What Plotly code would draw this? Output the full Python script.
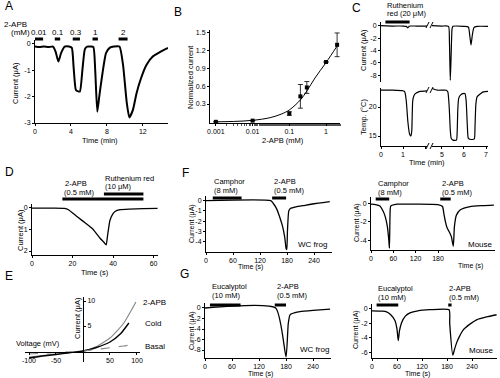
import plotly.graph_objects as go

W, H = 500, 378
FONT = "Liberation Sans, Arial, sans-serif"

# ---------------- DATA ----------------
# Panel A: current trace vs time (min)
A_time = [0, 0.5, 1.0, 1.5, 2.0, 2.3, 2.6, 2.9, 3.3, 3.8, 4.1, 4.3, 4.55, 4.8, 5.0, 5.3, 5.55,
          5.8, 6.2, 6.5, 6.7, 6.93, 7.15, 7.4, 7.9, 8.3, 8.8, 9.4, 9.8, 10.2, 10.5, 10.9, 11.3,
          11.8, 12.4, 13.1, 13.7, 14.3, 14.8]
A_current = [-0.1, -0.12, -0.1, -0.12, -0.1, -0.3, -0.67, -0.35, -0.1, -0.1, -0.15, -0.9, -1.75,
             -1.8, -1.8, -0.9, -0.2, -0.1, -0.1, -0.12, -1.0, -2.57, -2.0, -1.37, -0.35, -0.15,
             -0.1, -0.1, -0.8, -2.2, -2.79, -2.5, -1.87, -1.3, -0.8, -0.48, -0.35, -0.23, -0.15]
A_bar_start = [0, 2.2, 4.2, 6.4, 9.3]
A_bar_end = [0.9, 2.8, 5.0, 7.0, 10.3]
A_conc = ["0.01", "0.1", "0.3", "1", "2"]

# Panel B: dose response
B_conc = [0.001, 0.01, 0.1, 0.2, 0.3, 1, 2]
B_mean = [0.0, 0.02, 0.14, 0.43, 0.58, 1.01, 1.3]
B_err = [0.0, 0.0, 0.03, 0.2, 0.1, 0.0, 0.2]
B_fit_x = [0.001, 0.003, 0.01, 0.03, 0.06, 0.1, 0.2, 0.3, 0.5, 1, 2]
B_fit_y = [0.0, 0.006, 0.025, 0.07, 0.13, 0.2, 0.37, 0.52, 0.74, 1.0, 1.28]
B_xticks = [0.001, 0.01, 0.1, 1]
B_xlabels = ["0.001", "0.01", "0.1", "1"]
B_yticks = [0.3, 0.6, 0.9, 1.2, 1.5]

# Panel C: current and temperature (broken time axis)
C_t_left = [0, 0.5, 1.0, 1.15, 1.22, 1.28, 1.33, 1.6, 2.09]
C_i_left = [0, -0.05, -0.05, -0.1, -0.35, -0.1, -0.05, -0.05, -0.05]
C_t_right = [4.55, 5.0, 5.3, 5.34, 5.38, 5.42, 5.46, 5.5, 6.0, 6.2, 6.27, 6.32, 6.38, 6.45, 6.6, 7.09]
C_i_right = [0, -0.05, -0.1, -2.5, -8.8, -4.5, -0.5, -0.1, -0.1, -0.2, -1.8, -3.1, -1.5, -0.3, -0.1, -0.1]
C_tt_left = [0, 0.5, 1.0, 1.08, 1.15, 1.22, 1.3, 1.36, 1.4, 1.44, 1.5, 1.6, 1.77, 2.09]
C_temp_left = [22.9, 22.9, 22.8, 22.6, 21, 17.5, 15.3, 15.0, 16, 21, 22.0, 22.4, 22.7, 22.8]
C_tt_right = [4.55, 4.8, 5.2, 5.27, 5.33, 5.38, 5.42, 5.5, 5.66, 5.69, 5.72, 5.76, 5.85, 5.95,
              6.05, 6.1, 6.15, 6.2, 6.35, 6.47, 6.5, 6.54, 6.6, 6.75, 6.88, 7.09]
C_temp_right = [23.2, 22.9, 22.9, 22.6, 20, 16, 14.6, 14.3, 14.3, 15.5, 19.5, 21.5, 22.1, 22.3,
                22.3, 21, 17, 14.6, 14.4, 14.5, 16.5, 20.5, 21.8, 22.3, 22.6, 22.7]
C_rr_bar = [0.2, 1.3]

# Panel D
D_time = [0, 10, 16, 18, 22, 26, 30, 33.6, 35.5, 36.6, 37.3, 38.5, 40, 41, 43.5, 48, 55, 62]
D_current = [-0.05, -0.05, -0.06, -0.12, -0.42, -0.7, -1.0, -1.42, -1.6, -1.72, -1.3, -0.6, -0.3,
             -0.2, -0.12, -0.09, -0.07, -0.06]
D_apb_bar = [15, 55]
D_rr_bar = [35.5, 55]

# Panel E: I-V curves
E_voltage = [-100, -75, -50, -25, 0, 25, 50, 75, 98]
E_apb = [-1.2, -0.9, -0.6, -0.3, 0, 0.9, 2.6, 5.5, 9.8]
E_voltage_cold = [-100, -75, -50, -25, 0, 25, 50, 70, 85]
E_cold = [-1.4, -1.0, -0.7, -0.35, 0, 0.7, 1.8, 3.5, 5.6]
E_basal = [-0.6, -0.45, -0.3, -0.15, 0, 0.3, 0.65, 1.0, 1.4]

# Panel F
F_left_t = [0, 144, 150, 157, 163, 170, 175, 178, 179.5, 181, 184, 188, 200, 220, 240, 260, 275]
F_left_i = [0, 0, -0.3, -0.8, -1.5, -2.5, -3.6, -4.7, -4.8, -3.0, -1.0, -0.75, -0.6, -0.45,
            -0.3, -0.18, -0.1]
F_right_t = [0, 12, 24, 32, 38, 44, 48, 49.5, 51, 53, 70, 120, 180, 192, 196, 200, 204, 208, 212,
             216, 221, 224, 229, 240, 266, 300, 330]
F_right_i = [-0.1, -0.15, -0.3, -0.8, -1.4, -2.5, -4.0, -4.8, -1.5, -0.3, -0.1, -0.1, -0.15,
             -0.35, -1.2, -2.0, -2.6, -2.9, -3.2, -3.6, -4.6, -2.5, -1.3, -0.7, -0.35, -0.25, -0.2]
F_left_bars = [[15, 79], [147, 178]]
F_right_bars = [[12.6, 49], [186, 214]]

# Panel G
G_left_t = [0, 157, 180, 185, 189, 200, 211, 240, 278]
G_left_i = [0, 0, -9.3, -3.0, -1.3, -0.9, -0.7, -0.45, -0.2]
G_right_t = [0, 25, 35, 45, 55, 60, 63, 66, 71, 80, 91, 110, 139, 185, 186.5, 194, 198, 203, 210,
             219, 235, 251, 275, 299]
G_right_i = [-0.25, -0.3, -0.4, -0.8, -1.6, -2.8, -4.4, -3.0, -1.9, -1.0, -0.55, -0.25, -0.1,
             -0.1, -2, -6.4, -5.6, -4.7, -3.8, -2.9, -2.1, -1.5, -1.1, -0.8]
G_left_bars = [[11, 79], [155, 180]]
G_right_bars = [[11, 63], [183, 191]]

# ---------------- HELPERS ----------------
TICKFONT = dict(family=FONT, size=7, color="black")


def px(x):
    return x / W


def py(y):
    return 1 - y / H


def xax(dom, rng, tickvals=None, ticktext=None, show=True, **kw):
    d = dict(domain=[px(dom[0]), px(dom[1])], range=rng, showline=show, linecolor="black",
             linewidth=1, ticks="outside" if show else "", ticklen=2, tickwidth=1,
             tickcolor="black", showticklabels=show, tickfont=TICKFONT, showgrid=False,
             zeroline=False, fixedrange=True, automargin=False)
    if tickvals is not None:
        d["tickvals"] = tickvals
        d["ticktext"] = ticktext if ticktext is not None else [str(v) for v in tickvals]
    d.update(kw)
    return d


def yax(dom, rng, tickvals=None, ticktext=None, show=True, **kw):
    d = dict(domain=[py(dom[1]), py(dom[0])], range=rng, showline=show, linecolor="black",
             linewidth=1, ticks="outside" if show else "", ticklen=2, tickwidth=1,
             tickcolor="black", showticklabels=show, tickfont=TICKFONT, showgrid=False,
             zeroline=False, fixedrange=True, automargin=False)
    if tickvals is not None:
        d["tickvals"] = tickvals
        d["ticktext"] = ticktext if ticktext is not None else [str(v) for v in tickvals]
    d.update(kw)
    return d


annotations = []
shapes = []


def text(t, x, y, size=8, xanchor="center", angle=0):
    annotations.append(dict(text=t, x=px(x), y=py(y), xref="paper", yref="paper",
                            showarrow=False, xanchor=xanchor, yanchor="middle",
                            textangle=angle, font=dict(family=FONT, size=size, color="black")))


def bar(xref, x0, x1, y, width=3):
    shapes.append(dict(type="line", xref=xref, yref="paper", x0=x0, x1=x1, y0=py(y), y1=py(y),
                       line=dict(color="black", width=width)))


def pline(x0, y0, x1, y1, color="black", width=1):
    shapes.append(dict(type="line", xref="paper", yref="paper", x0=px(x0), y0=py(y0),
                       x1=px(x1), y1=py(y1), line=dict(color=color, width=width)))


fig = go.Figure()


def line(x, y, n, color="black", width=1.2, dash="solid"):
    sfx = "" if n == 1 else str(n)
    fig.add_trace(go.Scatter(x=x, y=y, mode="lines", xaxis="x" + sfx, yaxis="y" + sfx,
                             line=dict(color=color, width=width, dash=dash, shape="spline",
                                       smoothing=0.5),
                             showlegend=False, hoverinfo="skip"))


layout = {}

# ---- A ----
line(A_time, A_current, 1, width=2)
layout["xaxis"] = xax([35, 168], [0, 14.8], [0, 4, 8, 12], anchor="y")
layout["yaxis"] = yax([40, 123], [-3, 0.15], [0, -1, -2, -3], anchor="x")
for s, e, c in zip(A_bar_start, A_bar_end, A_conc):
    bar("x", s, e, 39)
    text(c, 35 + 9 * (s + e) / 2, 32, size=8)
text("2-APB", 2, 24, size=8, xanchor="left")
text("(mM)", 9, 32, size=8, xanchor="left")
text("Current (μA)", 16, 83, size=7.5, angle=-90)
text("Time (min)", 100, 140, size=7.5)
text("A", 3, 6, size=12, xanchor="left")

# ---- B ----
fig.add_trace(go.Scatter(x=B_fit_x, y=B_fit_y, mode="lines", xaxis="x2", yaxis="y2",
                         line=dict(color="black", width=1, shape="spline"), showlegend=False))
fig.add_trace(go.Scatter(x=B_conc, y=B_mean, mode="markers", xaxis="x2", yaxis="y2",
                         marker=dict(symbol="square", size=4, color="black"),
                         error_y=dict(type="data", array=B_err, color="black", thickness=0.8,
                                      width=2.5),
                         showlegend=False))
layout["xaxis2"] = xax([210, 340], [-3.16, 0.38], B_xticks, B_xlabels, anchor="y2", type="log",
                       minor=dict(ticks="outside", ticklen=1.5, tickcolor="#555555"))
layout["yaxis2"] = yax([30, 123], [-0.02, 1.55], B_yticks, ["0.3", "0.6", "0.9", "1.2", "1.5"],
                       anchor="x2")
text("Normalized current", 190, 77, size=7.5, angle=-90)
text("2-APB (mM)", 283, 140, size=7.5)
text("B", 172, 12, size=12, xanchor="left")

# ---- C ----
line(C_t_left, C_i_left, 3, width=1.2)
line(C_t_right, C_i_right, 4, width=1.2)
line(C_tt_left, C_temp_left, 5, width=1.2)
line(C_tt_right, C_temp_right, 6, width=1.2)
layout["xaxis3"] = xax([381, 427], [0, 2.09], show=False, anchor="y3")
layout["yaxis3"] = yax([22, 82], [-9.08, 0.6], [0, -2, -4, -6, -8], anchor="x3")
layout["xaxis4"] = xax([432, 488], [4.55, 7.09], show=False, anchor="y4")
layout["yaxis4"] = yax([22, 82], [-9.08, 0.6], show=False, anchor="x4")
layout["xaxis5"] = xax([381, 427], [0, 2.09], [0, 1, 2], ["0", "1", ""], anchor="y5")
layout["yaxis5"] = yax([88, 146], [13.28, 23.28], [15, 20], anchor="x5")
layout["xaxis6"] = xax([432, 488], [4.55, 7.09], [5, 6, 7], anchor="y6")
layout["yaxis6"] = yax([88, 146], [13.28, 23.28], show=False, anchor="x6")
bar("x3", C_rr_bar[0], C_rr_bar[1], 22)
text("Ruthenium", 385, 5, size=7.5, xanchor="left")
text("red (20 μM)", 385, 14, size=7.5, xanchor="left")
text("Current (μA)", 363, 50, size=7.5, angle=-90)
text("Temp. (°C)", 363, 117, size=7.5, angle=-90)
text("Time (min)", 427, 162, size=7.5)
text("C", 350, 8, size=12, xanchor="left")
for yb in (25, 90, 146):
    pline(426, yb + 3, 429, yb - 3)
    pline(430, yb + 3, 433, yb - 3)

# ---- D ----
line(D_time, D_current, 7, width=1.3)
layout["xaxis7"] = xax([32, 158], [0, 62.2], [0, 20, 40, 60], anchor="y7")
layout["yaxis7"] = yax([204, 255], [-2.18, 0.14], [0, -1, -2], ["0", "1", "2"], anchor="x7")
bar("x7", D_apb_bar[0], D_apb_bar[1], 199)
bar("x7", D_rr_bar[0], D_rr_bar[1], 194)
text("2-APB", 63, 183, size=7.5, xanchor="left")
text("(0.5 mM)", 62, 192, size=7.5, xanchor="left")
text("Ruthenium red", 103, 178, size=7.5, xanchor="left")
text("(10 μM)", 103, 187, size=7.5, xanchor="left")
text("Current (μA)", 20, 230, size=7.5, angle=-90)
text("Time (s)", 95, 272, size=7.5)
text("D", 3, 172, size=12, xanchor="left")

# ---- E ----
line(E_voltage, E_apb, 8, color="#8a8a8a", width=1.2)
line(E_voltage_cold, E_cold, 8, color="black", width=1.4)
line(E_voltage, E_basal, 8, color="#8a8a8a", width=1.2, dash="dash")
layout["xaxis8"] = xax([25, 140], [-107.4, 105.6], [-100, -50, 50, 100], anchor="free",
                       position=py(352))
layout["yaxis8"] = yax([297, 362], [-2.2, 10.8], [5, 10], anchor="free", position=px(83),
                       side="right")
text("2-APB", 141, 302, size=8, xanchor="left")
text("Cold", 143, 323, size=8, xanchor="left")
text("Basal", 143, 346, size=8, xanchor="left")
text("Voltage (mV)", 14, 343, size=7.5, xanchor="left")
text("Current (μA)", 77, 318, size=7.5, angle=-90)
text("E", 3, 276, size=12, xanchor="left")

# ---- F ----
line(F_left_t, F_left_i, 9, width=1.3)
line(F_right_t, F_right_i, 10, width=1.3)
layout["xaxis9"] = xax([206, 332], [0, 280], [0, 60, 120, 180, 240], anchor="y9")
layout["yaxis9"] = yax([196, 252], [-5.03, 0.46], [0, -1, -2, -3, -4], anchor="x9")
layout["xaxis10"] = xax([371, 495], [0, 333], [0, 60, 120, 180], anchor="y10")
layout["yaxis10"] = yax([197, 250], [-5.0, 0.67], [0, -2, -4], anchor="x10")
for b in F_left_bars:
    bar("x9", b[0], b[1], 198)
for b in F_right_bars:
    bar("x10", b[0], b[1], 199)
text("Camphor", 212, 181, size=7.5, xanchor="left")
text("(8 mM)", 212, 190, size=7.5, xanchor="left")
text("2-APB", 272, 181, size=7.5, xanchor="left")
text("(0.5 mM)", 272, 190, size=7.5, xanchor="left")
text("Camphor", 376, 183, size=7.5, xanchor="left")
text("(8 mM)", 376, 192, size=7.5, xanchor="left")
text("2-APB", 440, 183, size=7.5, xanchor="left")
text("(0.5 mM)", 440, 192, size=7.5, xanchor="left")
text("WC frog", 312, 244, size=8)
text("Mouse", 480, 244, size=8)
text("Current (μA)", 192, 224, size=7, angle=-90)
text("Current (μA)", 357, 223, size=7, angle=-90)
text("Time (s)", 250, 267, size=7)
text("Time (s)", 470, 266, size=7)
text("F", 180, 173, size=12, xanchor="left")

# ---- G ----
line(G_left_t, G_left_i, 11, width=1.3)
line(G_right_t, G_right_i, 12, width=1.3)
layout["xaxis11"] = xax([205, 331], [0, 280], [0, 60, 120, 180, 240], anchor="y11")
layout["yaxis11"] = yax([303, 358], [-9.52, 0.95], [0, -2, -4, -6, -8], anchor="x11")
layout["xaxis12"] = xax([372, 497], [0, 300], [0, 60, 120, 180, 240], anchor="y12")
layout["yaxis12"] = yax([304, 358], [-6.8, 0.69], [0, -2, -4, -6], anchor="x12")
for b in G_left_bars:
    bar("x11", b[0], b[1], 305)
for b in G_right_bars:
    bar("x12", b[0], b[1], 305)
text("Eucalyptol", 210, 286, size=7.5, xanchor="left")
text("(10 mM)", 210, 295, size=7.5, xanchor="left")
text("2-APB", 275, 286, size=7.5, xanchor="left")
text("(0.5 mM)", 275, 295, size=7.5, xanchor="left")
text("Eucalyptol", 376, 288, size=7.5, xanchor="left")
text("(10 mM)", 376, 297, size=7.5, xanchor="left")
text("2-APB", 447, 288, size=7.5, xanchor="left")
text("(0.5 mM)", 447, 297, size=7.5, xanchor="left")
text("WC frog", 314, 349, size=8)
text("Mouse", 481, 350, size=8)
text("Current (μA)", 192, 331, size=7, angle=-90)
text("Current (μA)", 356, 330, size=7, angle=-90)
text("Time (s)", 260, 374, size=7)
text("Time (s)", 417, 374, size=7)
text("G", 178, 274, size=12, xanchor="left")

fig.update_layout(**layout)
fig.update_layout(width=W, height=H, margin=dict(l=0, r=0, t=0, b=0, pad=0, autoexpand=False),
                  paper_bgcolor="white", plot_bgcolor="white",
                  annotations=annotations, shapes=shapes, showlegend=False,
                  font=dict(family=FONT, size=8, color="black"))
fig.write_html("out.html", config={"displayModeBar": False},
               post_script="document.body.style.margin='0px';document.body.style.padding='0px';")
